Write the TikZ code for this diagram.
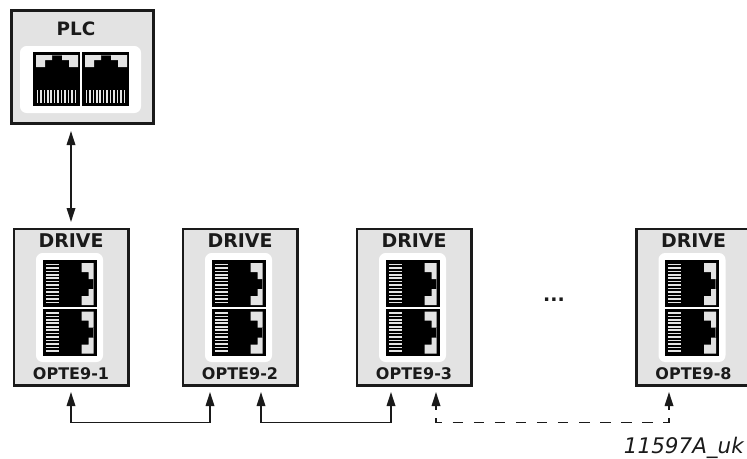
\documentclass[tikz,border=0pt]{standalone}
\usepackage{fontspec}
\setmainfont{DejaVu Sans}
\usetikzlibrary{arrows.meta}
\definecolor{boxgrey}{HTML}{E3E3E3}
\definecolor{ink}{HTML}{1A1A1A}
\tikzset{
  x=.75pt,y=-.75pt,
  unit box/.style={draw=ink,line width=2.1pt,fill=boxgrey,inner sep=0pt,outer sep=0pt,minimum width=#1*.75pt},
  plcbox/.style={unit box=142.6,minimum height=113.6*.75pt},
  drivebox/.style={unit box=114.5,minimum height=156.5*.75pt},
  title/.style={font=\bfseries\fontsize{14.2pt}{16pt}\selectfont,inner sep=0pt,text=ink},
  plctitle/.style={font=\bfseries\fontsize{13.8pt}{16pt}\selectfont,inner sep=0pt,text=ink},
  tag/.style={font=\bfseries\fontsize{12pt}{14pt}\selectfont,inner sep=0pt,text=ink},
  note/.style={font=\itshape\fontsize{16.1pt}{18pt}\selectfont,inner sep=0pt,text=ink},
  link/.style={draw=ink,line width=1.2pt,{Triangle[length=10.5pt,width=6.4pt]}-{Triangle[length=10.5pt,width=6.4pt]}},
  panel/.style={fill=white,rounded corners=5pt,draw=none},
  rj/.pic={
    \fill[black] (0,0) rectangle (47,54);
    \fill[boxgrey] (3,3) -- (19,3) -- (19,8) -- (12,8) -- (12,15) -- (3,15) -- cycle;
    \fill[boxgrey] (29,3) -- (45,3) -- (45,15) -- (36,15) -- (36,8) -- (29,8) -- cycle;
    \fill[black!60] (19,3) rectangle (29,4);
    \foreach \i in {0,...,11}{\fill[white!90!black] ({3.6+\i*3.45},38) rectangle ({5.2+\i*3.45},51);}
  }
}
\begin{document}
\begin{tikzpicture}
\clip (0,0) rectangle (747,458);
% PLC
\node[plcbox] (plc) at (82.5,67) {};
\fill[panel] (20,46) rectangle (141,113);
\pic at (33,52) {rj};
\pic at (82,52) {rj};
\node[plctitle] (plct) at (76,29) {PLC};
% Drives
\foreach \n/\l/\t in {a/14/OPTE9-1,b/183/OPTE9-2,c/357/OPTE9-3,d/636.5/OPTE9-8}{
  \node[drivebox] (\n) at ({\l+57.25},307.25) {};
  \fill[panel] ({\l+22},253) rectangle ({\l+89},362);
  \pic[rotate=-90] at ({\l+82.5},260) {rj};
  \pic[rotate=-90] at ({\l+82.5},308.5) {rj};
  \node[title] (\n t) at ({\l+57},241) {DRIVE};
  \node[tag] (\n o) at ({\l+57},374) {\t};
}
\node[title] (more) at (554,300) {...};
\node[note,anchor=east] (ref) at (744,448) {11597A\_uk};
% Free connector ends
\coordinate (p1) at (71,131);
\coordinate (p2) at (71,222);
\coordinate (a1) at (71,392);
\coordinate (b1) at (210,392);
\coordinate (b2) at (261,392);
\coordinate (c1) at (391,392);
\coordinate (c2) at (436,392);
\coordinate (d1) at (669,392);
\draw[link] (p1) -- (p2);
\draw[link] (a1) -- ++(0,30.5) -| (b1);
\draw[link] (b2) -- ++(0,30.5) -| (c1);
\draw[link,dash pattern=on 3.4pt off 6pt
  on 7.875pt off 7.92pt on 7.875pt off 7.92pt on 7.875pt off 7.92pt on 7.875pt off 7.92pt
  on 7.875pt off 7.92pt on 7.875pt off 7.92pt on 7.875pt off 7.92pt on 7.875pt off 7.92pt
  on 7.875pt off 7.92pt on 7.875pt off 7.92pt on 7.875pt off 7.92pt
  on 7.875pt off 6pt on 8pt off 8pt] (c2) -- ++(0,30.5) -| (d1);
\end{tikzpicture}
\end{document}
